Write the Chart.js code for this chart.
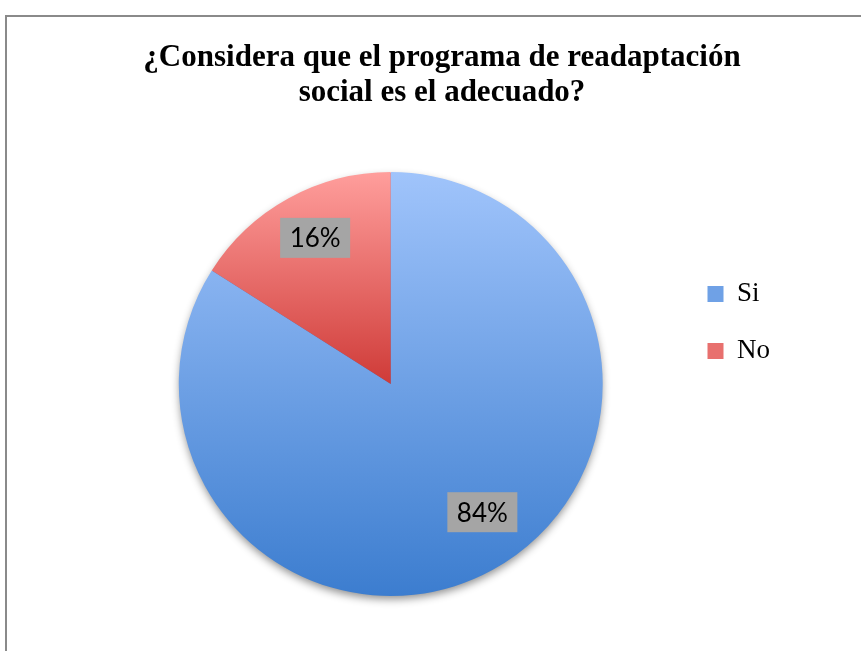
<!DOCTYPE html>
<html lang="es">
<head>
    <meta charset="UTF-8">
    <title>Readaptación social</title>
    <script src="https://cdn.jsdelivr.net/npm/chart.js"></script>
    <style>
        body {
            margin: 0;
            background-color: #ffffff;
            overflow: hidden;
        }
        .marco {
            position: absolute;
            left: 5px;
            top: 15px;
            width: 866px;
            height: 700px;
            border: 2px solid #8a8a8a;
            background: #ffffff;
        }
    </style>
</head>
<body>
    <div class="marco">
        <canvas id="grafico" width="866" height="634"></canvas>
    </div>

    <script>
        // Datos de la encuesta
        const categorias = ['Si', 'No'];
        const valores = [84, 16];
        const etiquetas = ['84%', '16%'];
        const titulo = ['¿Considera que el programa de readaptación', 'social es el adecuado?'];

        // Colores del degradado (claro arriba, oscuro abajo)
        const colorClaro = ['#a0c4fb', '#ff9e9c'];
        const colorOscuro = ['#3c7dcf', '#cf3b38'];
        const colorLeyenda = ['#6fa1e6', '#e8706e'];

        function degradado(context) {
            const chart = context.chart;
            const area = chart.chartArea;
            const i = context.dataIndex;
            if (!area) {
                return colorOscuro[i];
            }
            const cy = (area.top + area.bottom) / 2;
            const r = Math.min(area.right - area.left, area.bottom - area.top) / 2;
            // "Si" ocupa todo el alto del círculo, "No" solo la mitad superior
            const fin = i === 0 ? cy + r : cy;
            const g = chart.ctx.createLinearGradient(0, cy - r, 0, fin);
            g.addColorStop(0, colorClaro[i]);
            g.addColorStop(1, colorOscuro[i]);
            return g;
        }

        // Sombra suave debajo del pastel
        const sombra = {
            id: 'sombra',
            beforeDatasetsDraw(chart) {
                const arc = chart.getDatasetMeta(0).data[0];
                if (!arc) return;
                const ctx = chart.ctx;
                ctx.save();
                ctx.shadowColor = 'rgba(0, 0, 0, 0.45)';
                ctx.shadowBlur = 8;
                ctx.shadowOffsetY = 4;
                ctx.fillStyle = '#3c7dcf';
                ctx.beginPath();
                ctx.arc(arc.x, arc.y, arc.outerRadius - 1, 0, Math.PI * 2);
                ctx.fill();
                ctx.restore();
            }
        };

        // Ajuste fino de la posición de cada etiqueta (px)
        const ajusteEtiqueta = [[14, -13], [2, -5]];

        // Etiquetas de porcentaje con recuadro gris
        const etiquetasPct = {
            id: 'etiquetasPct',
            afterDatasetsDraw(chart) {
                const ctx = chart.ctx;
                const meta = chart.getDatasetMeta(0);
                ctx.save();
                ctx.font = '26px Lato';
                ctx.textAlign = 'center';
                ctx.textBaseline = 'middle';
                meta.data.forEach((arc, i) => {
                    const ang = (arc.startAngle + arc.endAngle) / 2;
                    const d = arc.outerRadius * 0.76;
                    const x = arc.x + Math.cos(ang) * d + ajusteEtiqueta[i][0];
                    const y = arc.y + Math.sin(ang) * d + ajusteEtiqueta[i][1];
                    ctx.fillStyle = '#a5a5a5';
                    ctx.fillRect(x - 35, y - 20, 70, 40);
                    ctx.fillStyle = '#000000';
                    ctx.fillText(etiquetas[i], x, y + 1);
                });
                ctx.restore();
            }
        };

        const ctx = document.getElementById('grafico').getContext('2d');
        const miGrafico = new Chart(ctx, {
            type: 'pie',
            data: {
                labels: categorias,
                datasets: [{
                    data: valores,
                    backgroundColor: degradado,
                    borderWidth: 0
                }]
            },
            options: {
                responsive: false,
                animation: false,
                layout: {
                    padding: { left: 97, right: 93, top: 0, bottom: 55 }
                },
                plugins: {
                    title: {
                        display: true,
                        text: titulo,
                        color: '#000000',
                        font: { family: 'Liberation Serif', size: 31, weight: 'bold', lineHeight: 1.13 },
                        padding: { top: 23, bottom: 62 }
                    },
                    legend: {
                        position: 'right',
                        // título vacío: solo baja un poco los elementos de la leyenda
                        title: {
                            display: true,
                            text: ' ',
                            color: '#000000',
                            font: { size: 10, lineHeight: 1 },
                            padding: 11
                        },
                        labels: {
                            color: '#000000',
                            boxWidth: 16,
                            boxHeight: 16,
                            padding: 30,
                            font: { family: 'Liberation Serif', size: 27 },
                            generateLabels(chart) {
                                return categorias.map((c, i) => ({
                                    text: c,
                                    fillStyle: colorLeyenda[i],
                                    strokeStyle: colorLeyenda[i],
                                    fontColor: '#000000',
                                    lineWidth: 0,
                                    hidden: false,
                                    index: i
                                }));
                            }
                        }
                    },
                    tooltip: { enabled: false }
                }
            },
            plugins: [sombra, etiquetasPct]
        });
    </script>
</body>
</html>
